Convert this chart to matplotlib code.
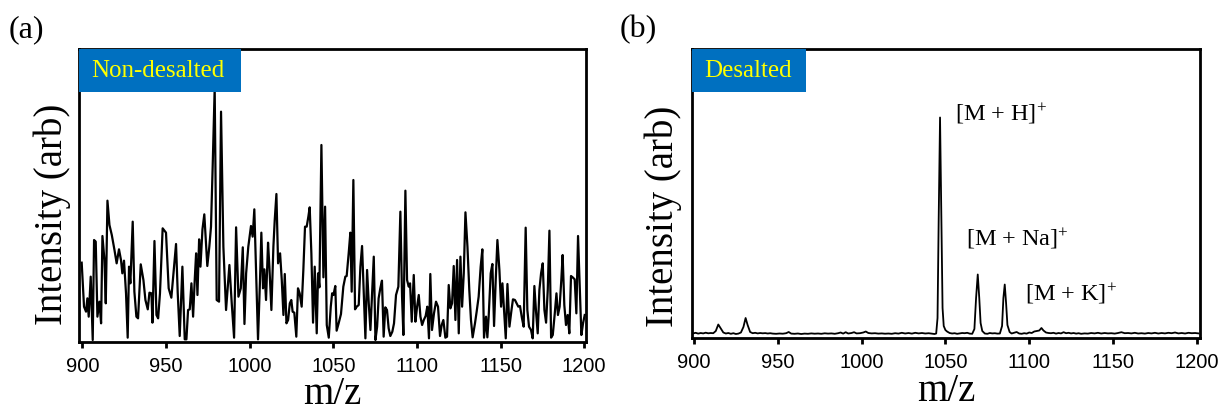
import matplotlib
matplotlib.use("Agg")
import matplotlib.pyplot as plt
from matplotlib.patches import Rectangle

# --- (a) non-desalted spectrum: m/z vs intensity (arb) ---
mz_a = [
    899.6, 901.0, 902.2, 903.0, 903.8, 905.0, 906.2, 907.0, 908.0, 909.0,
    910.2, 911.2, 912.0, 913.2, 914.0, 915.0, 916.2, 917.6, 919.2, 920.5,
    921.9, 923.1, 923.9, 924.9, 926.1, 927.1, 927.9, 928.7, 930.1, 931.1,
    932.3, 933.3, 934.9, 936.5, 937.7, 939.1, 940.1, 941.3, 941.9, 943.1,
    944.3, 945.3, 946.4, 948.0, 950.0, 951.6, 953.2, 956.0, 957.0, 958.2,
    959.8, 961.2, 962.2, 963.2, 964.2, 965.2, 966.2, 967.2, 968.0, 968.8,
    969.8, 970.6, 971.8, 972.9, 974.7, 975.9, 976.9, 977.9, 979.1, 980.3,
    981.7, 982.9, 984.3, 985.9, 987.9, 989.3, 990.7, 991.9, 993.3, 994.7,
    995.9, 996.9, 997.9, 999.2, 1000.8, 1001.8, 1002.8, 1003.8, 1005.0, 1006.2,
    1007.0, 1008.0, 1008.8, 1009.8, 1011.0, 1011.8, 1013.0, 1014.2, 1015.0, 1016.0,
    1017.0, 1018.2, 1019.2, 1020.2, 1021.0, 1022.0, 1023.0, 1024.0, 1024.9, 1025.7,
    1026.7, 1027.9, 1028.9, 1029.9, 1031.1, 1032.1, 1033.1, 1034.1, 1035.1, 1035.9,
    1036.9, 1037.9, 1038.9, 1040.1, 1040.9, 1041.7, 1042.9, 1044.1, 1045.1, 1046.1,
    1047.3, 1048.5, 1049.3, 1050.1, 1051.2, 1052.0, 1053.2, 1054.6, 1056.0, 1057.2,
    1058.0, 1059.2, 1060.2, 1061.0, 1062.0, 1063.0, 1064.0, 1065.2, 1066.2, 1067.2,
    1068.2, 1069.2, 1070.2, 1071.2, 1072.2, 1073.2, 1074.2, 1075.2, 1076.2, 1077.1,
    1078.1, 1079.1, 1080.1, 1081.1, 1082.1, 1083.1, 1084.1, 1085.3, 1086.3, 1087.5,
    1088.9, 1090.1, 1091.1, 1091.9, 1093.1, 1094.1, 1095.1, 1095.9, 1096.9, 1098.1,
    1099.1, 1100.1, 1101.1, 1102.1, 1103.1, 1104.1, 1105.2, 1106.2, 1107.2, 1108.0,
    1109.0, 1110.2, 1111.4, 1112.6, 1113.8, 1114.8, 1115.8, 1117.0, 1118.0, 1119.0,
    1120.0, 1121.0, 1122.0, 1123.0, 1124.0, 1125.0, 1126.0, 1127.0, 1128.0, 1129.0,
    1130.2, 1131.3, 1132.3, 1133.3, 1134.7, 1135.7, 1136.9, 1138.1, 1139.1, 1140.1,
    1141.3, 1142.1, 1142.9, 1144.1, 1145.1, 1146.1, 1147.1, 1148.1, 1149.3, 1150.3,
    1151.1, 1152.3, 1153.1, 1154.1, 1155.3, 1156.4, 1157.4, 1158.6, 1159.6, 1160.6,
    1161.6, 1162.8, 1163.8, 1165.0, 1166.0, 1167.0, 1168.2, 1169.2, 1170.2, 1171.2,
    1172.2, 1173.2, 1174.2, 1175.2, 1176.2, 1177.2, 1178.2, 1179.2, 1180.2, 1181.2,
    1182.4, 1183.4, 1184.3, 1185.3, 1186.3, 1187.1, 1188.1, 1189.1, 1190.1, 1191.1,
    1192.1, 1193.1, 1194.3, 1195.3, 1196.3, 1197.3, 1198.3, 1199.3, 1200.3,
]
int_a = [
    238, 106, 91, 131, 76, 196, 6, 306, 301, 76,
    121, 56, 318, 246, 116, 424, 351, 321, 276, 236,
    278, 246, 206, 244, 146, 13, 226, 176, 361, 151,
    76, 71, 233, 186, 126, 98, 148, 146, 58, 303,
    81, 71, 146, 341, 328, 161, 133, 294, 148, 18,
    226, 8, 8, 96, 98, 176, 76, 189, 266, 141,
    308, 226, 338, 383, 228, 286, 346, 526, 761, 126,
    121, 691, 286, 96, 231, 116, 13, 344, 136, 161,
    284, 54, 206, 286, 348, 316, 398, 216, 8, 186,
    328, 161, 218, 126, 298, 226, 96, 286, 366, 444,
    236, 266, 186, 81, 204, 56, 66, 116, 126, 91,
    88, 16, 161, 146, 106, 216, 346, 346, 376, 404,
    266, 58, 226, 26, 206, 164, 591, 194, 406, 51,
    13, 106, 146, 141, 168, 34, 56, 84, 166, 196,
    198, 266, 328, 151, 486, 98, 106, 111, 226, 288,
    146, 11, 216, 116, 36, 146, 256, 6, 46, 131,
    161, 184, 16, 104, 96, 41, 18, 31, 56, 141,
    166, 391, 136, 21, 454, 186, 166, 176, 61, 201,
    61, 106, 141, 76, 51, 66, 78, 106, 11, 204,
    36, 86, 121, 106, 18, 51, 66, 13, 16, 171,
    101, 116, 228, 66, 246, 26, 256, 106, 206, 389,
    286, 156, 66, 14, 56, 91, 136, 226, 278, 13,
    76, 14, 78, 206, 234, 48, 186, 306, 216, 106,
    176, 76, 11, 174, 46, 91, 128, 126, 116, 106,
    108, 71, 46, 343, 96, 46, 36, 11, 168, 91,
    26, 156, 206, 236, 96, 58, 156, 334, 13, 21,
    86, 146, 81, 106, 186, 261, 111, 51, 81, 26,
    198, 194, 188, 86, 318, 166, 21, 56, 81,
]

# --- (b) desalted spectrum ---
mz_b = [
    899.2, 901.0, 902.5, 904.0, 905.5, 907.0, 908.5, 910.0, 911.5, 913.0,
    914.5, 916.0, 917.5, 919.0, 920.5, 922.0, 923.5, 925.0, 926.5, 928.0,
    929.5, 930.8, 932.0, 933.5, 935.0, 936.5, 938.0, 939.5, 941.0, 942.5,
    944.0, 945.5, 947.0, 949.0, 951.0, 953.0, 955.0, 956.5, 958.0, 960.0,
    962.0, 964.0, 966.0, 968.0, 970.0, 972.0, 974.0, 976.0, 978.0, 980.0,
    982.0, 984.0, 986.0, 987.5, 989.0, 990.5, 992.0, 994.0, 995.5, 997.0,
    999.0, 1001.0, 1002.5, 1004.0, 1006.0, 1008.0, 1010.0, 1012.0, 1014.0, 1016.0,
    1018.0, 1020.0, 1022.0, 1024.0, 1026.0, 1028.0, 1030.0, 1032.0, 1034.0, 1036.0,
    1038.0, 1040.0, 1042.0, 1043.5, 1044.5, 1045.3, 1046.0, 1046.8, 1047.5, 1048.3,
    1049.0, 1050.0, 1051.0, 1052.5, 1054.0, 1055.5, 1057.0, 1058.5, 1060.0, 1061.5,
    1063.0, 1064.5, 1066.0, 1067.3, 1068.3, 1069.3, 1070.2, 1071.0, 1072.0, 1073.5,
    1075.0, 1076.5, 1078.0, 1079.5, 1081.0, 1082.5, 1083.8, 1084.6, 1085.4, 1086.2,
    1087.0, 1088.3, 1089.5, 1091.0, 1092.5, 1094.0, 1095.5, 1097.0, 1098.5, 1100.0,
    1101.5, 1103.0, 1104.5, 1106.0, 1107.3, 1108.5, 1110.0, 1111.5, 1113.0, 1114.5,
    1116.0, 1117.5, 1119.0, 1120.5, 1122.0, 1123.5, 1125.0, 1126.5, 1128.0, 1129.5,
    1131.0, 1133.0, 1135.0, 1137.0, 1139.0, 1141.0, 1143.0, 1145.0, 1147.0, 1149.0,
    1151.0, 1153.0, 1155.0, 1157.0, 1159.0, 1161.0, 1163.0, 1165.0, 1167.0, 1169.0,
    1171.0, 1173.0, 1175.0, 1177.0, 1179.0, 1181.0, 1183.0, 1185.0, 1187.0, 1189.0,
    1191.0, 1193.0, 1195.0, 1197.0, 1199.0, 1201.0,
]
int_b = [
    45, 52, 44, 50, 46, 53, 47, 50, 48, 70,
    135, 95, 55, 45, 50, 42, 48, 40, 44, 55,
    110, 200, 130, 60, 48, 52, 46, 50, 47, 49,
    45, 48, 44, 42, 45, 43, 48, 60, 44, 42,
    45, 40, 44, 42, 46, 43, 45, 42, 47, 44,
    46, 42, 48, 55, 44, 58, 45, 50, 58, 46,
    48, 55, 65, 50, 46, 48, 44, 46, 43, 45,
    42, 48, 44, 52, 45, 50, 44, 52, 46, 50,
    45, 48, 44, 40, 45, 200, 1200, 2205, 1300, 300,
    120, 80, 65, 50, 45, 48, 42, 46, 50, 48,
    52, 44, 42, 90, 400, 635, 400, 150, 70, 45,
    42, 50, 46, 48, 44, 45, 120, 400, 535, 350,
    130, 60, 45, 52, 60, 45, 42, 48, 44, 55,
    50, 65, 70, 75, 100, 75, 55, 50, 48, 52,
    44, 50, 46, 58, 48, 52, 46, 50, 44, 48,
    42, 46, 44, 50, 46, 52, 45, 50, 46, 48,
    44, 50, 58, 48, 50, 46, 52, 45, 48, 44,
    50, 46, 52, 45, 50, 46, 52, 48, 55, 46,
    50, 45, 52, 48, 50, 46,
]

ticks = [900, 950, 1000, 1050, 1100, 1150, 1200]
peak_labels = ["[M + H]$^{+}$", "[M + Na]$^{+}$", "[M + K]$^{+}$"]
peak_label_pos = [(1055.6, 2240), (1062.2, 990), (1097.4, 440)]

plt.rcParams["mathtext.fontset"] = "custom"
plt.rcParams["mathtext.rm"] = "Liberation Serif"
plt.rcParams["mathtext.it"] = "Liberation Serif:italic"

SERIF = "Liberation Serif"
SANS = "Liberation Sans"
BLUE = "#0070C0"

fig = plt.figure(figsize=(12.23, 4.12), dpi=100)
ax_a = fig.add_axes([0.0646, 0.1699, 0.4146, 0.7112])
ax_b = fig.add_axes([0.5658, 0.1796, 0.4154, 0.7015])


def style_axes(ax):
    for s in ax.spines.values():
        s.set_linewidth(2.0)
    ax.set_xticks(ticks)
    ax.tick_params(axis="x", direction="out", length=4, width=2, pad=7,
                   labelsize=14.5)
    for lab in ax.get_xticklabels():
        lab.set_family(SANS)
    ax.set_yticks([])
    ax.set_xlabel("m/z", family=SERIF, fontsize=28)
    ax.set_ylabel("Intensity (arb)", family=SERIF, fontsize=28)


def tag_box(ax, text, width, height):
    ax.add_patch(Rectangle((0, 1 - height), width, height, transform=ax.transAxes,
                           facecolor=BLUE, edgecolor="none", zorder=5, clip_on=False))
    ax.text(0.025, 1 - height / 2, text, transform=ax.transAxes, family=SERIF,
            fontsize=18, color="#FFFF00", va="center", ha="left", zorder=6)


# (a)
ax_a.plot(mz_a, int_a, color="black", lw=1.6)
ax_a.set_xlim(898.0, 1201.1)
ax_a.set_ylim(0, 879)
style_axes(ax_a)
ax_a.xaxis.set_label_coords(0.5, -0.115)
ax_a.yaxis.set_label_coords(-0.016, 0.437)
tag_box(ax_a, "Non-desalted", 0.3195, 0.1485)

# (b)
ax_b.plot(mz_b, int_b, color="black", lw=1.3)
ax_b.set_xlim(898.8, 1201.9)
ax_b.set_ylim(0, 2890)
style_axes(ax_b)
ax_b.xaxis.set_label_coords(0.5, -0.122)
ax_b.yaxis.set_label_coords(-0.02, 0.42)
tag_box(ax_b, "Desalted", 0.2244, 0.15)
for lab, (x, y) in zip(peak_labels, peak_label_pos):
    ax_b.text(x, y, lab, family=SERIF, fontsize=17.5, va="center", ha="left")

fig.text(9 / 1223, 1 - 30 / 412, "(a)", family=SERIF, fontsize=23, va="center", ha="left")
fig.text(620 / 1223, 1 - 30 / 412, "(b)", family=SERIF, fontsize=23, va="center", ha="left")

fig.savefig("out.png", dpi=100)
